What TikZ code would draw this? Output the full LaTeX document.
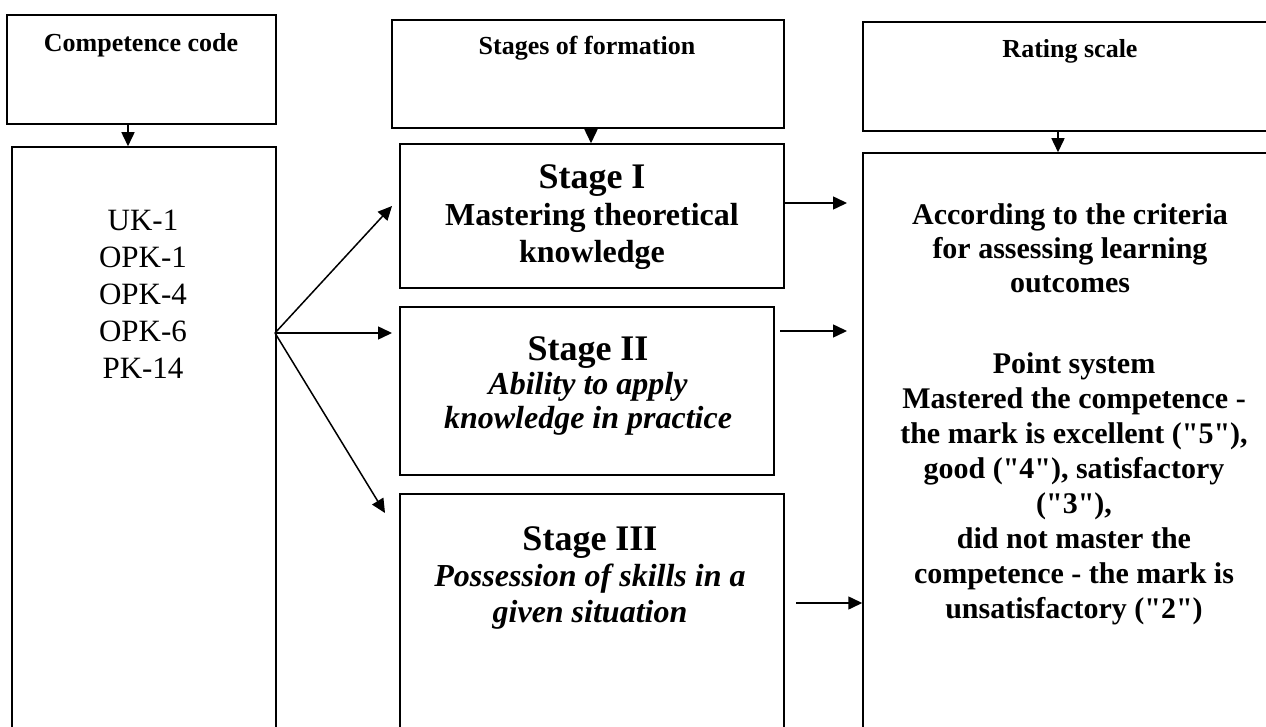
\documentclass[tikz,border=0pt]{standalone}
\usepackage{fontspec}
\setmainfont{Liberation Serif}[Ligatures=TeXOff]
\usetikzlibrary{arrows.meta}

\begin{document}
\begin{tikzpicture}
      [
        x=1pt, y=-1pt,
        box/.style={draw, line width=1.5pt, inner sep=0pt},
        head/.style={anchor=base, font=\fontsize{26}{30}\selectfont\bfseries},
        body/.style={anchor=base, align=center, font=\fontsize{32}{37}\selectfont\bfseries},
        arr/.style={line width=1.5pt, ->, >={Triangle[length=14pt,width=13pt]}}
      ]
      \clip (0,0) rectangle (1266,727);
      % header boxes
      \node [box, minimum width=269, minimum height=109] (codehead) at (141.5,69.5) {};
      \node [box, minimum width=392, minimum height=108] (stagehead) at (588,74) {};
      \node [box, minimum width=407, minimum height=109] (ratehead) at (1066.5,76.5) {};
      % content boxes
      \node [box, minimum width=264, minimum height=613] (codes) at (144,453.5) {};
      \node [box, minimum width=384, minimum height=144] (stage1) at (592,216) {};
      \node [box, minimum width=374, minimum height=168] (stage2) at (587,391) {};
      \node [box, minimum width=384, minimum height=266] (stage3) at (592,627) {};
      \node [box, minimum width=407, minimum height=607] (result) at (1066.5,456.5) {};
      % labels (base = last line)
      \node [head] (codetxt) at (141,52) {Competence code};
      \node [head] (stagetxt) at (587,55) {Stages of formation};
      \node [head] (ratetxt) at (1070,58) {Rating scale};
      \node [body, font=\fontsize{31}{37}\selectfont] (codelist) at (143,378)
        {UK-1\\OPK-1\\OPK-4\\OPK-6\\PK-14};
      \node [body] (s1txt) at (592,263)
        {{\fontsize{36}{37}\selectfont Stage I}\\Mastering theoretical\\knowledge};
      \node [body, font=\fontsize{32}{34}\selectfont\bfseries] (s2txt) at (588,428)
        {{\fontsize{36}{37}\selectfont Stage II}\\\textit{Ability to apply}\\\textit{knowledge in practice}};
      \node [body, font=\fontsize{32}{36}\selectfont\bfseries] (s3txt) at (590,622)
        {{\fontsize{36}{37}\selectfont Stage III}\\\textit{Possession of skills in a}\\\textit{given situation}};
      \node [body, font=\fontsize{30}{34}\selectfont\bfseries] (crit) at (1070,293)
        {According to the criteria\\for assessing learning\\outcomes};
      \node [body, font=\fontsize{30}{35}\selectfont\bfseries] (points) at (1074,618)
        {Point system\\Mastered the competence -\\the mark is excellent ("5"),\\good ("4"), satisfactory\\("3"),\\did not master the\\competence - the mark is\\unsatisfactory ("2")};
      % header arrows
      \draw [arr] ([xshift=-13.5pt]codehead.south) -- ([xshift=-16pt]codes.north);
      \draw [arr] ([xshift=3pt]stagehead.south) -- ([xshift=-1pt]stage1.north);
      \draw [arr] ([xshift=-8.5pt]ratehead.south) -- ([xshift=-8.5pt]result.north);
      % fan to the stages
      \coordinate (fan) at (275,333);
      \coordinate (t1) at (392,206);
      \coordinate (t2) at (392,333);
      \coordinate (t3) at (385,513);
      \foreach \t in {t1,t2,t3} {
          \draw [arr] (fan) -- (\t);
      }
      % stages to rating
      \coordinate (r1) at (847,203);
      \coordinate (r2a) at (780,331);
      \coordinate (r2) at (847,331);
      \coordinate (r3) at (796,603);
      \draw [arr] (stage1.east |- r1) -- (r1);
      \draw [arr] (r2a) -- (r2);
      \draw [arr] (r3) -- (result.west |- r3);
    \end{tikzpicture}
\end{document}
